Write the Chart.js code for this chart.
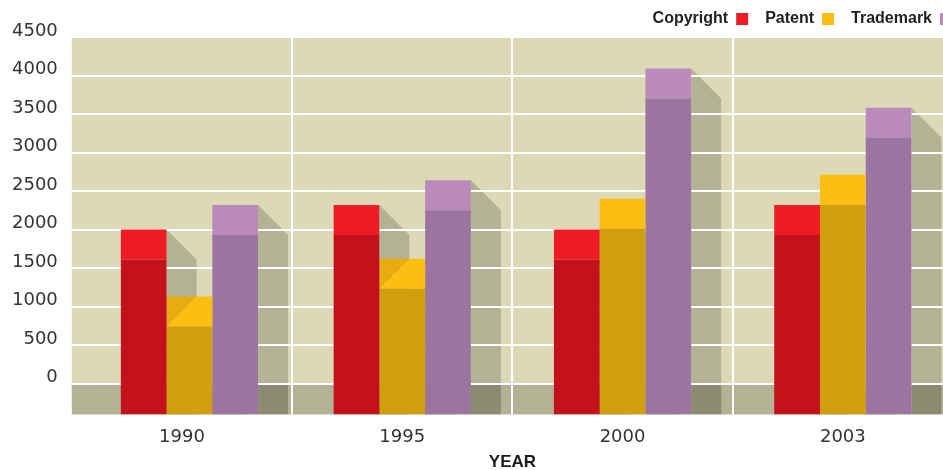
<!DOCTYPE html>
<html><head><meta charset="utf-8">
<script src="https://cdn.jsdelivr.net/npm/chart.js@4.4.1/dist/chart.umd.min.js"></script>
<style>html,body{margin:0;padding:0;background:#fff;overflow:hidden;}canvas{display:block;}</style>
</head><body>
<canvas id="c" width="953" height="470"></canvas>
<script>
// ---- data ----
const categories = ['1990', '1995', '2000', '2003'];
const copyright  = [2000, 2320, 2000, 2320];
const patent     = [1130, 1620, 2400, 2710];
const trademark  = [2320, 2640, 4090, 3580];
const seriesNames = ['Copyright', 'Patent', 'Trademark'];
const yTicks = [0, 500, 1000, 1500, 2000, 2500, 3000, 3500, 4000, 4500];
const yMin = -400, yMax = 4500;

// ---- styling ----
const DEPTH = 390;        // height (value units) of the lighter top face
const SHADOW = 30;        // shadow width in px
const groupShift = [7.5, 0, 0, 0]; // horizontal nudge of each bar group (px)
const lightColors = ['#ed1c24', '#fdbe13', '#b98aba'];
const darkColors  = ['#c3121b', '#d19f0d', '#9b749f'];
const seriesValues = [copyright, patent, trademark];

const datasets = [];
seriesValues.forEach((vals, s) => {
  datasets.push({
    label: seriesNames[s], stack: 's' + s, isTop: false,
    data: vals.map(v => [yMin, v - DEPTH]),
    backgroundColor: darkColors[s], borderWidth: 0
  });
  datasets.push({
    label: seriesNames[s], stack: 's' + s, isTop: true,
    data: vals.map(v => [v - DEPTH, v]),
    backgroundColor: lightColors[s], borderWidth: 0
  });
});

const depthPlugin = {
  id: 'depth',
  afterLayout(chart) {
    const lg = chart.legend;
    if (lg) { lg.left += 16; lg.right += 16; lg.top -= 6; lg.bottom -= 6; }
  },
  afterDatasetsUpdate(chart) {
    chart.data.datasets.forEach((ds, di) => {
      chart.getDatasetMeta(di).data.forEach((el, i) => { el.x += groupShift[i] || 0; });
    });
  },
  beforeDraw(chart) {
    const {ctx, chartArea: a} = chart;
    const y = chart.scales.y;
    const zero = y.getPixelForValue(0);
    ctx.save();
    ctx.fillStyle = '#ddd9b6';
    ctx.fillRect(a.left, a.top, a.right - a.left, zero - a.top);
    ctx.fillStyle = '#b3b295';
    ctx.fillRect(a.left, zero, a.right - a.left, a.bottom - zero);
    chart.data.datasets.forEach((ds, di) => {
      if (!ds.isTop) return;
      chart.getDatasetMeta(di).data.forEach(bar => {
        const xr = bar.x + bar.width / 2;
        const top = bar.y;
        ctx.save();
        ctx.beginPath();
        ctx.moveTo(xr, top);
        ctx.lineTo(xr + SHADOW, top + SHADOW);
        ctx.lineTo(xr + SHADOW, a.bottom);
        ctx.lineTo(xr, a.bottom);
        ctx.closePath();
        ctx.clip();
        ctx.fillStyle = '#b3b295';
        ctx.fillRect(xr, a.top, SHADOW + 1, zero - a.top);
        ctx.fillStyle = '#8b8a72';
        ctx.fillRect(xr, zero, SHADOW + 1, a.bottom - zero);
        ctx.restore();
      });
    });
    ctx.restore();
  },
  afterDatasetsDraw(chart) {
    const ctx = chart.ctx;
    const tops = [];
    chart.data.datasets.forEach((ds, di) => { if (ds.isTop) tops.push(chart.getDatasetMeta(di)); });
    ctx.save();
    for (let k = 1; k < tops.length; k++) {
      tops[k].data.forEach((bar, i) => {
        const left = tops[k - 1].data[i];
        if (left.y < bar.y - 1) {
          const xl = bar.x - bar.width / 2;
          const h = Math.min(SHADOW, Math.abs(bar.base - bar.y));
          ctx.fillStyle = 'rgba(0,0,0,0.09)';
          ctx.beginPath();
          ctx.moveTo(xl, bar.y);
          ctx.lineTo(xl + h, bar.y);
          ctx.lineTo(xl, bar.y + h);
          ctx.closePath();
          ctx.fill();
        }
      });
    }
    ctx.restore();
  }
};

new Chart(document.getElementById('c'), {
  type: 'bar',
  data: { labels: categories, datasets },
  plugins: [depthPlugin],
  options: {
    responsive: false,
    animation: false,
    devicePixelRatio: 1,
    layout: { padding: { left: -2, right: 0, top: 0, bottom: 0 } },
    datasets: { bar: { categoryPercentage: 0.623, barPercentage: 1.0 } },
    plugins: {
      tooltip: { enabled: false },
      legend: {
        position: 'top',
        align: 'start',
        rtl: true,
        reverse: true,
        maxHeight: 37,
        labels: {
          boxWidth: 12, boxHeight: 12, padding: 17,
          color: '#222',
          font: { family: 'Liberation Sans', weight: 'bold', size: 16 },
          filter: (item, data) => data.datasets[item.datasetIndex].isTop
        }
      }
    },
    scales: {
      x: {
        stacked: true,
        offset: true,
        grid: {
          offset: true,
          drawTicks: false,
          lineWidth: 2,
          color: (c) => (c.index === undefined || c.index === 0 || c.index >= categories.length) ? 'rgba(0,0,0,0)' : '#ffffff'
        },
        border: { display: false },
        ticks: { color: '#333', padding: 12, font: { family: 'DejaVu Sans', size: 18 } },
        title: {
          display: true, text: 'YEAR', color: '#1a1a1a',
          font: { family: 'Liberation Sans', weight: 'bold', size: 17, lineHeight: 1 },
          padding: { top: -6, bottom: -1 }
        }
      },
      y: {
        stacked: false,
        min: yMin, max: yMax,
        afterBuildTicks: (axis) => { axis.ticks = yTicks.map(v => ({ value: v })); },
        grid: { drawTicks: false, lineWidth: 2, color: '#ffffff' },
        border: { display: false },
        ticks: {
          color: '#333', padding: 14, labelOffset: -6,
          font: { family: 'DejaVu Sans', size: 18 },
          callback: (v) => String(v)
        }
      }
    }
  }
});
</script>
</body></html>
